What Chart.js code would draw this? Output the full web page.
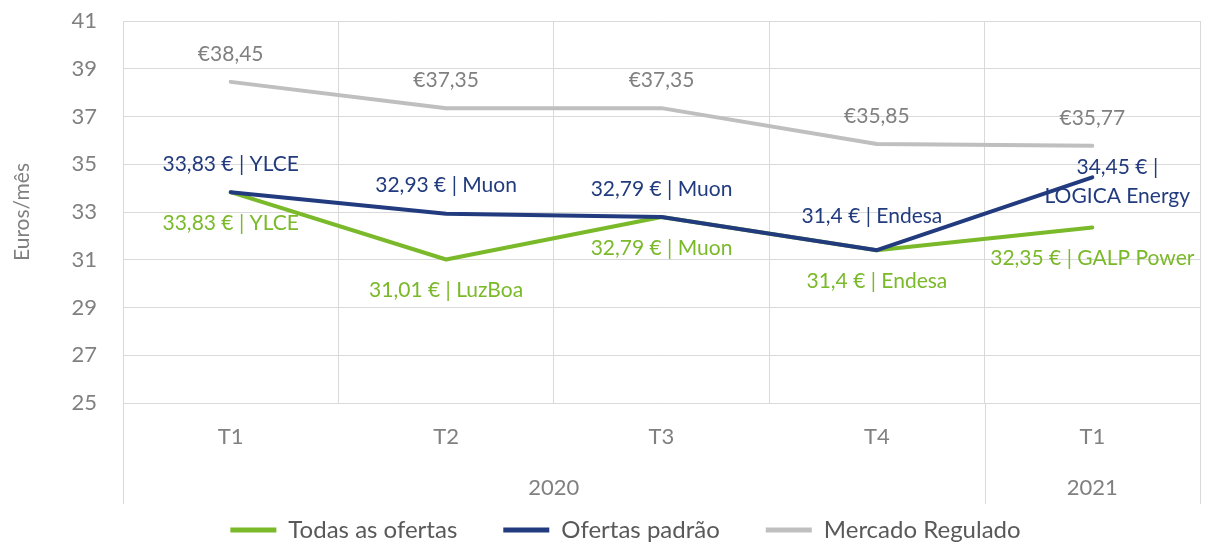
<!DOCTYPE html>
<html lang="pt">
<head>
    <meta charset="UTF-8">
    <title>Euros/mês</title>
    <script src="https://cdn.jsdelivr.net/npm/chart.js"></script>
    <style>
        html, body {
            margin: 0;
            padding: 0;
            background: #ffffff;
            overflow: hidden;
        }
        .wrap {
            position: relative;
            width: 1206px;
            height: 552px;
        }
    </style>
</head>
<body>
    <div class="wrap">
        <canvas id="precosChart"></canvas>
    </div>

    <script>
        // dados
        const categorias = ['T1', 'T2', 'T3', 'T4', 'T1'];
        const anos = ['2020', '2021'];
        const anosInicio = [0, 4];   // índice da primeira categoria de cada ano
        const anosFim = [3, 4];      // índice da última categoria de cada ano

        const todasValores = [33.83, 31.01, 32.79, 31.4, 32.35];
        const todasRotulos = ['33,83 € | YLCE', '31,01 € | LuzBoa', '32,79 € | Muon', '31,4 € | Endesa', '32,35 € | GALP Power'];

        const padraoValores = [33.83, 32.93, 32.79, 31.4, 34.45];
        const padraoRotulos = ['33,83 € | YLCE', '32,93 € | Muon', '32,79 € | Muon', '31,4 € | Endesa', ['34,45 € |', 'LOGICA Energy']];

        const reguladoValores = [38.45, 37.35, 37.35, 35.85, 35.77];
        const reguladoRotulos = ['€38,45', '€37,35', '€37,35', '€35,85', '€35,77'];

        const FONTE = "Lato, 'Open Sans', sans-serif";
        const CINZA_TEXTO = '#808080';
        const GRELHA = '#d9d9d9';

        // rótulos de dados (sem plugin externo)
        const rotulosPlugin = {
            id: 'rotulos',
            afterDatasetsDraw(chart) {
                const ctx = chart.ctx;
                ctx.save();
                ctx.font = '21px ' + FONTE;
                ctx.textAlign = 'center';
                ctx.textBaseline = 'middle';
                chart.data.datasets.forEach((ds, i) => {
                    const meta = chart.getDatasetMeta(i);
                    ctx.fillStyle = ds.corRotulo;
                    meta.data.forEach((pt, j) => {
                        const off = (ds.ajustes && ds.ajustes[j]) || [0, ds.dyRotulo];
                        const txt = ds.rotulos[j];
                        const linhas = Array.isArray(txt) ? txt : [txt];
                        const y0 = pt.y + off[1] - (linhas.length - 1) * 14.5;
                        linhas.forEach((l, k) => ctx.fillText(l, pt.x + off[0], y0 + k * 29));
                    });
                });
                ctx.restore();
            }
        };

        // separadores e rótulos dos anos por baixo do eixo
        const anosPlugin = {
            id: 'anos',
            afterDraw(chart) {
                const x = chart.scales.x;
                const ctx = chart.ctx;
                const fundo = chart.chartArea.bottom;
                const bordas = new Set();
                anosInicio.forEach(v => bordas.add(v - 0.5));
                anosFim.forEach(v => bordas.add(v + 0.5));
                ctx.save();
                ctx.strokeStyle = GRELHA;
                ctx.lineWidth = 1;
                bordas.forEach(v => {
                    const px = Math.round(x.getPixelForValue(v)) + 0.5;
                    ctx.beginPath();
                    ctx.moveTo(px, fundo);
                    ctx.lineTo(px, fundo + 101);
                    ctx.stroke();
                });
                ctx.font = '22px ' + FONTE;
                ctx.fillStyle = CINZA_TEXTO;
                ctx.textAlign = 'center';
                ctx.textBaseline = 'middle';
                anos.forEach((a, i) => {
                    ctx.fillText(a, x.getPixelForValue((anosInicio[i] + anosFim[i]) / 2), fundo + 85);
                });
                ctx.restore();
            }
        };

        const linha = (label, data, cor, rotulos, corRotulo, dy, ajustes) => ({
            label, data,
            borderColor: cor,
            backgroundColor: cor,
            borderWidth: 4,
            borderCapStyle: 'round',
            borderJoinStyle: 'round',
            pointRadius: 0,
            pointHoverRadius: 0,
            pointStyle: 'line',
            tension: 0,
            rotulos, corRotulo, dyRotulo: dy, ajustes
        });

        const semPadding = s => {
            s.paddingTop = 0; s.paddingBottom = 0;
            s.paddingLeft = 0; s.paddingRight = 0;
        };

        new Chart(document.getElementById('precosChart'), {
            type: 'line',
            data: {
                labels: categorias,
                // ordem inversa para a linha azul ficar por cima da verde
                datasets: [
                    linha('Mercado Regulado', reguladoValores, '#bfbfbf', reguladoRotulos, '#808080', -28),
                    linha('Ofertas padrão', padraoValores, '#223b7e', padraoRotulos, '#223b7e', -28,
                        [null, null, null, [-5, -34], [25, 4.5]]),
                    linha('Todas as ofertas', todasValores, '#7ab929', todasRotulos, '#7ab929', 31)
                ]
            },
            options: {
                responsive: true,
                maintainAspectRatio: false,
                animation: false,
                layout: { padding: { top: 21, right: 6, left: 51, bottom: 0 } },
                plugins: {
                    legend: {
                        position: 'bottom',
                        reverse: true,
                        labels: {
                            usePointStyle: true,
                            pointStyle: 'line',
                            pointStyleWidth: 46,
                            padding: 46,
                            color: '#595959',
                            font: { family: FONTE, size: 24 },
                            generateLabels: chart => Chart.defaults.plugins.legend.labels.generateLabels(chart)
                                .map(l => Object.assign(l, { lineWidth: 5, pointStyle: 'line' }))
                        }
                    },
                    tooltip: { enabled: false }
                },
                scales: {
                    x: {
                        type: 'category',
                        offset: true,
                        grid: { offset: true, color: GRELHA, drawTicks: false },
                        border: { display: false },
                        ticks: { color: CINZA_TEXTO, padding: 21, font: { family: FONTE, size: 22 } },
                        afterFit: s => { semPadding(s); s.height = 69; }
                    },
                    y: {
                        min: 25,
                        max: 41,
                        ticks: { stepSize: 2, color: CINZA_TEXTO, padding: 26, font: { family: FONTE, size: 22 } },
                        grid: { color: GRELHA, drawTicks: false },
                        border: { display: false },
                        title: {
                            display: true,
                            text: 'Euros/mês',
                            color: CINZA_TEXTO,
                            padding: { top: -41, bottom: 0 },
                            font: { family: FONTE, size: 21 }
                        },
                        afterFit: s => { semPadding(s); s.width = 72; }
                    }
                }
            },
            plugins: [rotulosPlugin, anosPlugin]
        });
    </script>
</body>
</html>
